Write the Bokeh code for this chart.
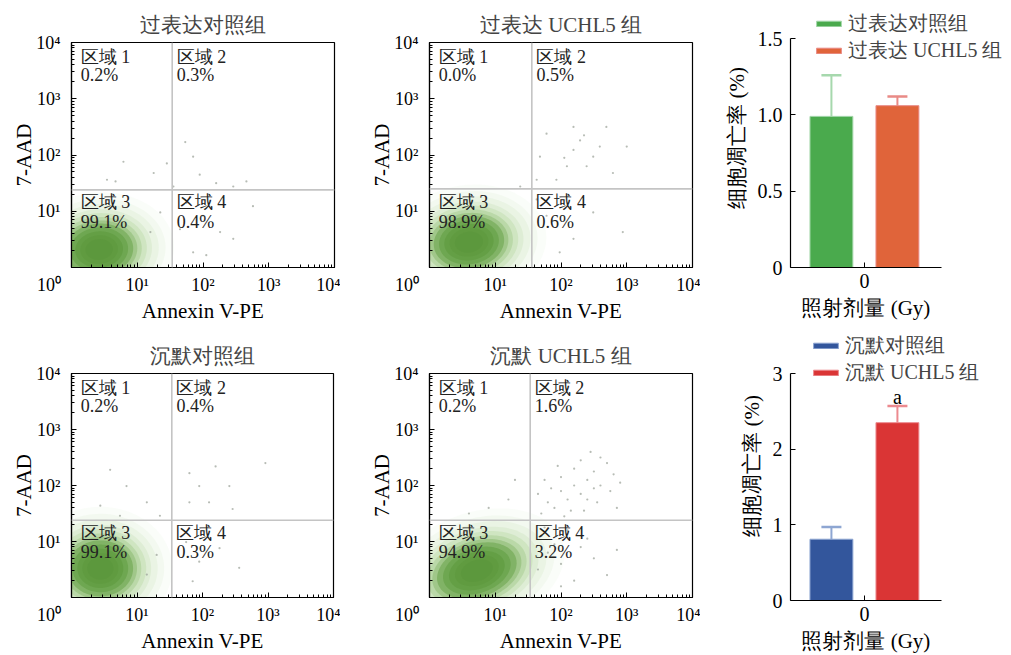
import numpy as np
from bokeh.plotting import figure
from bokeh.layouts import row, column
from bokeh.models import (Range1d, Span, FixedTicker, Legend, LegendItem,
                          Whisker, TeeHead, ColumnDataSource)
from bokeh.core.properties import value
from bokeh.embed import file_html
from bokeh.resources import INLINE

FONT = "'Liberation Serif', 'Times New Roman', serif"

# ---------------- data ----------------
panel_titles = ["过表达对照组", "过表达 UCHL5 组", "沉默对照组", "沉默 UCHL5 组"]
region_names = ["区域 1", "区域 2", "区域 3", "区域 4"]
region1_pct = [0.2, 0.0, 0.2, 0.2]
region2_pct = [0.3, 0.5, 0.4, 1.6]
region3_pct = [99.1, 98.9, 99.1, 94.9]
region4_pct = [0.4, 0.6, 0.3, 3.2]
gate_annexin = [34, 36, 34, 34]
gate_7aad = [24, 25, 24, 24]

# main (live) population, in log10 units: centre, radii, tilt (deg)
cloud_cx = [0.42, 0.60, 0.44, 0.72]
cloud_cy = [0.32, 0.45, 0.52, 0.48]
cloud_rx = [0.52, 0.54, 0.50, 0.64]
cloud_ry = [0.46, 0.46, 0.50, 0.46]
cloud_tilt = [10, 15, 0, 28]

# sparse events, log10 (Annexin V-PE, 7-AAD)
p1_ev_x = [1.73, 1.85, 1.45, 0.79, 0.54, 0.67, 2.20, 2.46, 2.66, 1.95, 1.55, 1.25, 1.75, 2.00, 2.26, 2.46, 1.85, 1.65, 2.76, 1.35, 2.05, 1.20]
p1_ev_y = [2.23, 1.97, 1.85, 1.88, 1.56, 1.53, 1.50, 1.44, 1.53, 1.65, 1.44, 1.68, 1.15, 0.92, 0.63, 0.51, 0.27, 0.68, 1.09, 0.98, 0.22, 0.63]
p2_ev_x = [2.19, 1.78, 2.69, 2.49, 2.09, 2.29, 1.93, 2.79, 1.68, 2.39, 2.59, 2.19, 1.63, 3.00, 1.78, 2.19, 2.49, 1.98, 2.94, 1.63, 1.38, 2.05, 2.35]
p2_ev_y = [2.09, 2.38, 2.50, 1.97, 1.80, 2.26, 1.56, 1.68, 1.97, 1.80, 2.15, 2.50, 1.56, 2.15, 0.92, 0.51, 0.98, 0.27, 0.63, 1.21, 1.44, 1.95, 2.35]
p3_ev_x = [1.80, 1.95, 2.20, 2.41, 1.80, 2.10, 2.46, 2.96, 0.84, 0.59, 0.44, 1.15, 0.74, 1.35, 1.75, 1.95, 2.26, 2.56, 1.85, 1.30, 1.15]
p3_ev_y = [2.22, 1.99, 2.34, 1.99, 1.70, 1.70, 1.58, 2.40, 1.99, 2.28, 1.64, 1.70, 1.46, 1.46, 0.99, 0.64, 0.88, 0.53, 0.29, 0.76, 0.41]
p4_ev_x = [1.70, 1.80, 1.90, 2.00, 2.10, 2.20, 2.30, 2.40, 2.50, 2.60, 2.70, 2.80, 2.45, 2.20, 2.00, 1.85, 2.35, 2.55, 2.75, 2.90,
           1.65, 2.05, 2.60, 2.30, 1.95, 2.15, 2.50, 2.85, 1.75, 2.40,
           1.70, 1.80, 1.90, 2.00, 2.10, 2.30, 2.50, 2.70, 2.20, 1.65, 2.85, 2.40, 1.75, 2.00,
           0.90, 1.20, 0.60, 1.30]
p4_ev_y = [1.50, 1.70, 1.60, 1.90, 1.75, 2.00, 1.85, 2.10, 2.25, 2.00, 2.40, 2.20, 2.60, 2.30, 2.15, 1.95, 1.55, 1.70, 1.90, 2.05,
           1.85, 1.45, 2.50, 2.45, 2.35, 1.55, 1.95, 1.60, 2.10, 1.75,
           1.10, 0.80, 0.95, 0.60, 1.20, 0.90, 0.70, 0.40, 0.30, 0.50, 0.85, 1.05, 1.25, 0.20,
           1.60, 1.75, 1.50, 2.10]
events_x = [p1_ev_x, p2_ev_x, p3_ev_x, p4_ev_x]
events_y = [p1_ev_y, p2_ev_y, p3_ev_y, p4_ev_y]

dose_labels = ["0"]
bar_groups_top = ["过表达对照组", "过表达 UCHL5 组"]
bar_mean_top = [0.99, 1.06]
bar_err_top = [0.27, 0.06]
bar_groups_bottom = ["沉默对照组", "沉默 UCHL5 组"]
bar_mean_bottom = [0.81, 2.35]
bar_err_bottom = [0.16, 0.22]
sig_marks_bottom = ["", "a"]

# ---------------- styles ----------------
layer_scale = [2.2, 1.95, 1.75, 1.55, 1.4, 1.25, 1.12, 1.0, 0.85, 0.7, 0.55, 0.4]
layer_alpha = [0.05, 0.07, 0.09, 0.12, 0.16, 0.24, 0.35, 0.55, 0.60, 0.60, 0.50, 0.40]
layer_color = ["#9fd083", "#98cb7b", "#90c472", "#88bf69", "#80b860", "#78b157",
               "#70aa50", "#68a348", "#629e42", "#5e9a3e", "#5b973b", "#58943a"]

decades = [1, 10, 100, 1000, 10000]
minor = [m * d for d in decades[:-1] for m in range(2, 10)]
sup = {1: "10\u2070", 10: "10\u00b9", 100: "10\u00b2", 1000: "10\u00b3", 10000: "10\u2074"}
NB = "\u00a0"


def style_axis(ax, size="18px"):
    ax.axis_label_text_font = FONT
    ax.axis_label_text_font_style = "normal"
    ax.axis_label_text_font_size = "21px"
    ax.axis_label_text_color = "black"
    ax.major_label_text_font = FONT
    ax.major_label_text_font_size = size
    ax.major_label_text_color = "black"
    ax.axis_line_color = "black"
    ax.axis_line_width = 1.2
    ax.major_tick_line_color = "black"
    ax.minor_tick_line_color = "black"


def flow_fig(i, w, h, bl, br, bt, bb):
    p = figure(width=w, height=h, x_axis_type="log", y_axis_type="log",
               x_range=Range1d(1, 1e4), y_range=Range1d(1, 1e4),
               output_backend="svg", toolbar_location=None, frame_align=False,
               min_border_left=bl, min_border_right=br, min_border_top=bt, min_border_bottom=bb,
               title=panel_titles[i])
    p.grid.visible = False
    p.outline_line_color = "black"
    p.outline_line_width = 1.2
    p.title.align = "center"
    p.title.text_font = FONT
    p.title.text_font_size = "21px"
    p.title.text_font_style = "normal"
    p.title.standoff = 12

    t = np.linspace(0, 2 * np.pi, 120)
    a = np.deg2rad(cloud_tilt[i])
    xs, ys = [], []
    for s in layer_scale:
        ex = s * cloud_rx[i] * np.cos(t)
        ey = s * cloud_ry[i] * np.sin(t)
        lx = cloud_cx[i] + ex * np.cos(a) - ey * np.sin(a)
        ly = cloud_cy[i] + ex * np.sin(a) + ey * np.cos(a)
        xs.append(10 ** lx)
        ys.append(10 ** ly)
    p.patches(xs, ys, fill_color=layer_color, fill_alpha=layer_alpha, line_color=None)

    p.scatter(10 ** np.array(events_x[i]), 10 ** np.array(events_y[i]), size=2.2,
              fill_color="#98a096", line_color=None, fill_alpha=0.7)

    p.add_layout(Span(location=gate_annexin[i], dimension="height", line_color="#c4c4c4", line_width=1.6))
    p.add_layout(Span(location=gate_7aad[i], dimension="width", line_color="#c4c4c4", line_width=1.6))

    gx = np.log10(gate_annexin[i])
    lab_x = [10 ** 0.14, 10 ** (gx + 0.07), 10 ** 0.14, 10 ** (gx + 0.07)]
    name_y = [10 ** 3.75, 10 ** 3.75, 10 ** 1.16, 10 ** 1.16]
    pct_y = [10 ** 3.42, 10 ** 3.42, 10 ** 0.81, 10 ** 0.81]
    pcts = [region1_pct[i], region2_pct[i], region3_pct[i], region4_pct[i]]
    p.text(x=lab_x, y=name_y, text=region_names, text_font=value(FONT), text_font_size="18px",
           text_align="left", text_baseline="middle", text_color="#222222")
    p.text(x=lab_x, y=pct_y, text=[f"{v:.1f}%" for v in pcts], text_font=value(FONT),
           text_font_size="18px", text_align="left", text_baseline="middle", text_color="#222222")

    p.xaxis.axis_label = "Annexin V-PE"
    p.yaxis.axis_label = "7-AAD"
    for ax in (p.xaxis[0], p.yaxis[0]):
        style_axis(ax)
        ax.ticker = FixedTicker(ticks=decades, minor_ticks=minor)
        ax.major_tick_in = 5
        ax.major_tick_out = 0
        ax.minor_tick_in = 3
        ax.minor_tick_out = 0
    xo = dict(sup)
    xo[1] = sup[1] + NB * 10
    p.xaxis.major_label_overrides = xo
    p.yaxis.major_label_overrides = {k: ("" if k == 1 else v) for k, v in sup.items()}
    p.xaxis.major_label_standoff = 7
    p.yaxis.major_label_standoff = 11
    p.xaxis.axis_label_standoff = 1
    p.yaxis.axis_label_standoff = -3
    return p


def bar_fig(groups, means, errs, colors, err_colors, marks, w, h, bl, br, bt, bb,
            ymax, ytop, xend, yticks, ylabels, leg_loc, leg_spacing):
    p = figure(width=w, height=h, x_range=Range1d(-1.12, xend), y_range=Range1d(0, ytop),
               output_backend="svg", toolbar_location=None, frame_align=False,
               min_border_left=bl, min_border_right=br, min_border_top=bt, min_border_bottom=bb)
    p.grid.visible = False
    p.outline_line_color = None
    pos = [-0.5, 0.5]
    items = []
    for k in range(len(groups)):
        r = p.vbar(x=[pos[k]], top=[means[k]], width=0.65, fill_color=colors[k],
                   line_color=err_colors[k], line_width=1)
        items.append(LegendItem(label=groups[k], renderers=[r]))
        src = ColumnDataSource(dict(x=[pos[k]], lo=[means[k]], up=[means[k] + errs[k]]))
        p.add_layout(Whisker(source=src, base="x", lower="lo", upper="up", dimension="height",
                             line_color=err_colors[k], line_width=2,
                             upper_head=TeeHead(size=20, line_color=err_colors[k], line_width=2.5),
                             lower_head=None))
    tops = [m + e for m, e in zip(means, errs)]
    p.text(x=pos, y=tops, text=marks, text_font=value(FONT), text_font_size="20px",
           text_align="center", text_baseline="bottom", y_offset=2)

    leg = Legend(items=items, location=leg_loc, background_fill_alpha=0, border_line_color=None,
                 padding=0, margin=0, spacing=leg_spacing, glyph_width=31, glyph_height=7,
                 label_height=20, label_standoff=4, label_text_font=FONT,
                 label_text_font_size="20px")
    p.add_layout(leg, "center")

    # the frame is wider than the axis (room for the legend); pad label to centre it under the axis
    p.xaxis.axis_label = "照射剂量 (Gy)" + NB * 13
    p.yaxis.axis_label = "细胞凋亡率 (%)"
    for ax in (p.xaxis[0], p.yaxis[0]):
        style_axis(ax, "20px")
        ax.major_tick_in = 5
        ax.major_tick_out = 0
        ax.minor_tick_in = 0
        ax.minor_tick_out = 0
    p.xaxis.bounds = (-1.12, 1.17)
    p.yaxis.bounds = (0, ymax)
    p.xaxis.ticker = FixedTicker(ticks=[0])
    p.xaxis.major_label_overrides = {0: dose_labels[0]}
    p.yaxis.ticker = FixedTicker(ticks=yticks)
    p.yaxis.major_label_overrides = dict(zip(yticks, ylabels))
    p.xaxis.major_label_standoff = 6
    p.yaxis.major_label_standoff = 8
    p.xaxis.axis_label_standoff = 5
    p.yaxis.axis_label_standoff = 6
    return p


f1 = flow_fig(0, 340, 330, 71, 6, 42, 63)
f2 = flow_fig(1, 360, 330, 89, 8, 42, 63)
f4 = flow_fig(2, 340, 325, 71, 7, 43, 56)
f5 = flow_fig(3, 360, 325, 89, 8, 43, 56)

f3 = bar_fig(bar_groups_top, bar_mean_top, bar_err_top,
             ["#4aaa4d", "#e0643a"], ["#a6d8ad", "#e98a86"], ["", ""],
             311, 330, 90, 2, 8, 63, 1.5, 1.5 * 259 / 229, -1.12 + 219 / 66,
             [0, 0.5, 1, 1.5], ["0", "0.5", "1.0", "1.5"], (23, 203), -3)
f6 = bar_fig(bar_groups_bottom, bar_mean_bottom, bar_err_bottom,
             ["#33569c", "#da3535"], ["#8ea6d2", "#ec8a8f"], sig_marks_bottom,
             311, 325, 90, 2, 1, 55, 3, 3 * 269 / 227, -1.12 + 219 / 66,
             [0, 1, 2, 3], ["0", "1", "2", "3"], (20, 214), -7)

layout = column(row(f1, f2, f3), row(f4, f5, f6))
open("out.html", "w").write(file_html(layout, INLINE))
